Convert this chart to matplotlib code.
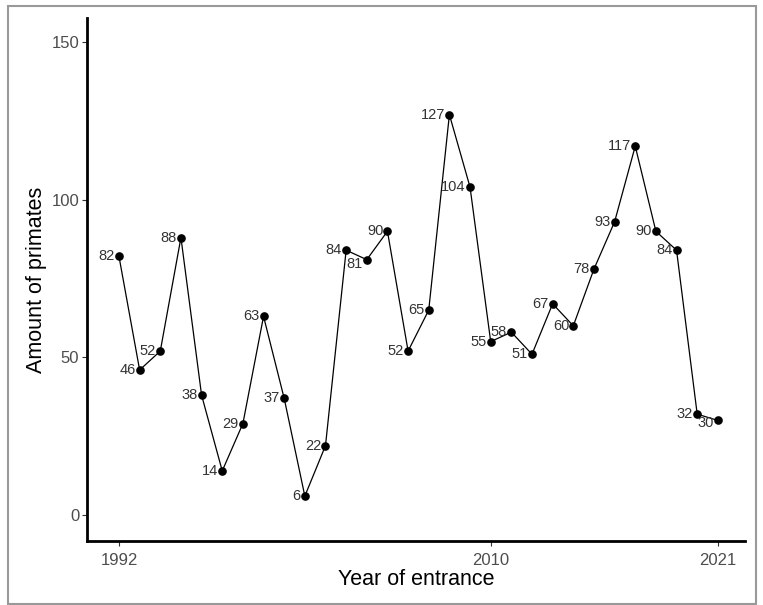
import matplotlib
matplotlib.use("Agg")
import matplotlib.pyplot as plt
from matplotlib.patches import Rectangle

plt.rcParams['font.family'] = ['Liberation Sans', 'DejaVu Sans']

years = list(range(1992, 2022))
amount = [82, 46, 52, 88, 38, 14, 29, 63, 37, 6, 22, 84, 81, 90, 52, 65,
          127, 104, 55, 58, 51, 67, 60, 78, 93, 117, 90, 84, 32, 30]
xticks = [1992, 2010, 2021]
yticks = [0, 50, 100, 150]

# label nudges (points) where labels got pushed around
nudge = {2004: (-3, -3), 2021: (-3, -1.5)}

fig = plt.figure(figsize=(7.63, 6.05), dpi=100)
ax = fig.add_axes([0.114, 0.106, 0.862, 0.864])

ax.plot(years, amount, color="black", lw=0.9, marker="o", ms=5.2, mec="black", mfc="black")
for x, y in zip(years, amount):
    dx, dy = nudge.get(x, (-3, 0))
    ax.annotate(str(y), (x, y), xytext=(dx, dy), textcoords="offset points",
                ha="right", va="center", fontsize=10.5, color="#333333")

ax.set_xlim(1990.45, 2022.3)
ax.set_ylim(-8.2, 157.6)
ax.set_xticks(xticks)
ax.set_yticks(yticks)
ax.tick_params(labelsize=12, labelcolor="#4d4d4d", color="#333333", length=3.5, width=0.8)
ax.tick_params(axis="x", pad=5)
ax.tick_params(axis="y", pad=2)
ax.set_xlabel("Year of entrance", fontsize=15.5, labelpad=1)
ax.set_ylabel("Amount of primates", fontsize=15.5, labelpad=3)
for s in ["top", "right"]:
    ax.spines[s].set_visible(False)
for s in ["left", "bottom"]:
    ax.spines[s].set_linewidth(2.0)

fig.patches.append(Rectangle((0.011, 0.002), 0.98, 0.988, transform=fig.transFigure,
                             fill=False, edgecolor="#999999", lw=1.5))

fig.savefig("out.png", dpi=100)
